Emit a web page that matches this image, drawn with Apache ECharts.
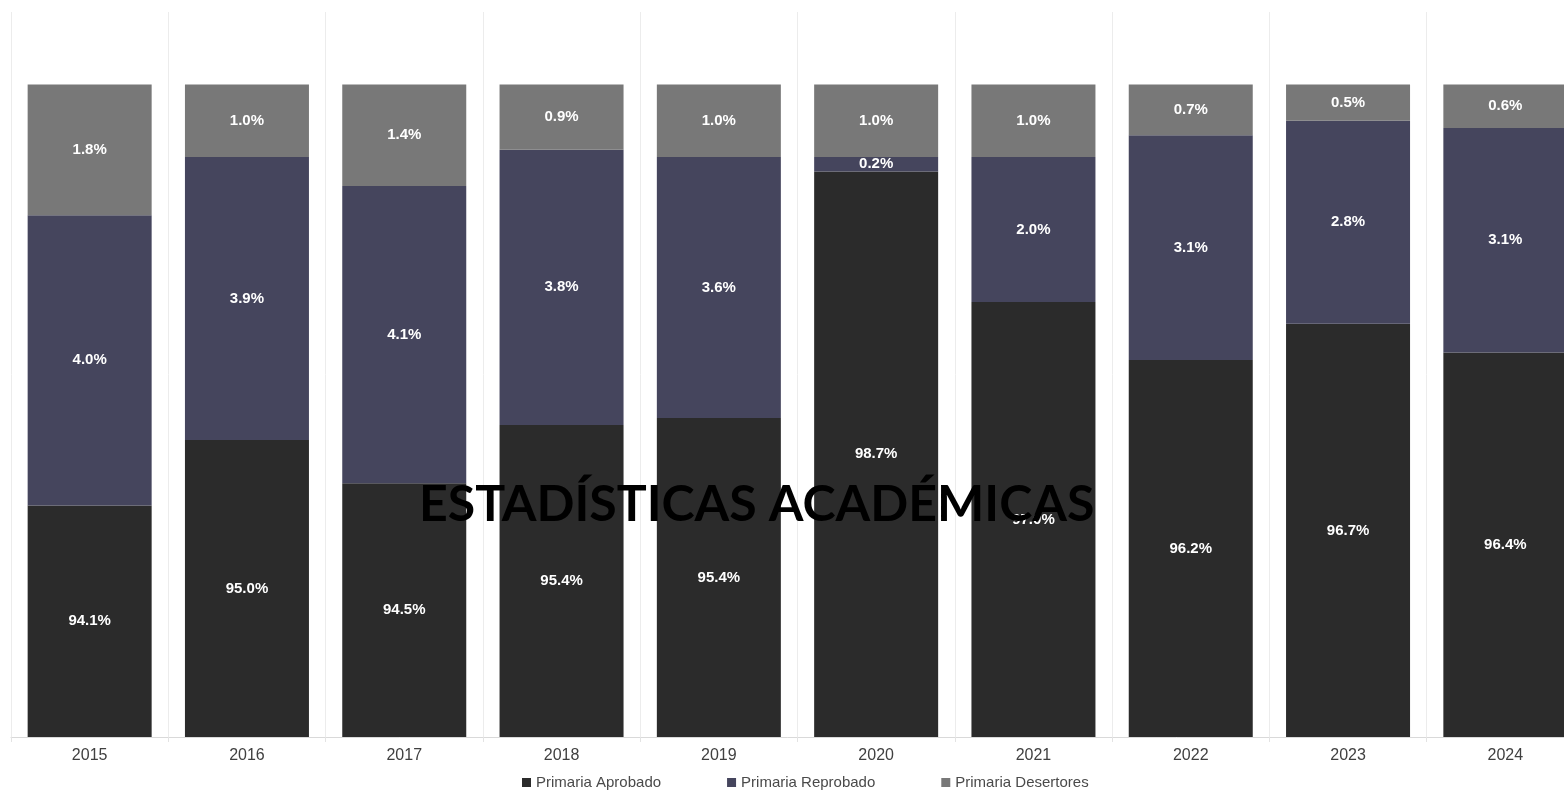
<!DOCTYPE html>
<html>
<head>
<meta charset="utf-8">
<script src="https://cdn.jsdelivr.net/npm/echarts@6/dist/echarts.min.js"></script>
<style>
html,body{margin:0;padding:0;background:#fff;}
#chart{width:1564px;height:791px;}
</style>
</head>
<body>
<div id="chart"></div>
<script>
const years = ['2015','2016','2017','2018','2019','2020','2021','2022','2023','2024'];
const aprobado = [94.1, 95.0, 94.5, 95.4, 95.4, 98.7, 97.0, 96.2, 96.7, 96.4];
const reprobado = [4.0, 3.9, 4.1, 3.8, 3.6, 0.2, 2.0, 3.1, 2.8, 3.1];
const desertores = [1.8, 1.0, 1.4, 0.9, 1.0, 1.0, 1.0, 0.7, 0.5, 0.6];
const seriesNames = ['Primaria Aprobado', 'Primaria Reprobado', 'Primaria Desertores'];
const titleText = 'ESTADÍSTICAS ACADÉMICAS';

// 100% stacked: each bar normalised to its own total, labels show the read values
const totals = years.map((_, i) => aprobado[i] + reprobado[i] + desertores[i]);
function norm(arr) {
  return arr.map((v, i) => ({ value: v / totals[i] * 100, raw: v }));
}

const chart = echarts.init(document.getElementById('chart'));
const lbl = {
  show: true, position: 'inside', color: '#ffffff', fontWeight: 'bold',
  fontSize: 15, fontFamily: 'Liberation Sans, Arial, sans-serif',
  formatter: p => p.data.raw.toFixed(1) + '%'
};
function mk(name, data, color) {
  return {
    name: name, type: 'bar', stack: 'total', data: norm(data), barWidth: 124,
    itemStyle: { color: color }, label: lbl, emphasis: { disabled: true }
  };
}
chart.setOption({
  animation: false,
  backgroundColor: '#ffffff',
  title: {
    text: titleText, left: 414, top: 475,
    textStyle: { fontFamily: 'Lato, sans-serif', fontWeight: 'bold', fontSize: 50, color: '#000000' }
  },
  legend: {
    data: seriesNames, left: 522, top: 775, icon: 'rect', itemWidth: 9, itemHeight: 9,
    itemGap: 66, padding: 0,
    textStyle: { fontSize: 15, color: '#4a4a4a', fontFamily: 'Liberation Sans, Arial, sans-serif' }
  },
  grid: { left: 11, width: 1573, top: 12, height: 725, containLabel: false, outerBoundsMode: 'none' },
  xAxis: {
    type: 'category', data: years,
    axisLine: { lineStyle: { color: '#d9d9d9' } },
    axisTick: { show: true, length: 5, lineStyle: { color: '#e3e3e3' } },
    axisLabel: { color: '#404040', fontSize: 16, margin: 11, fontFamily: 'Liberation Sans, Arial, sans-serif' },
    splitLine: { show: true, lineStyle: { color: '#ececec' } }
  },
  yAxis: { type: 'value', min: 91, max: 101, show: false, splitLine: { show: false } },
  series: [
    mk(seriesNames[0], aprobado, '#2b2b2b'),
    mk(seriesNames[1], reprobado, '#45455d'),
    mk(seriesNames[2], desertores, '#787878')
  ]
});
</script>
</body>
</html>
